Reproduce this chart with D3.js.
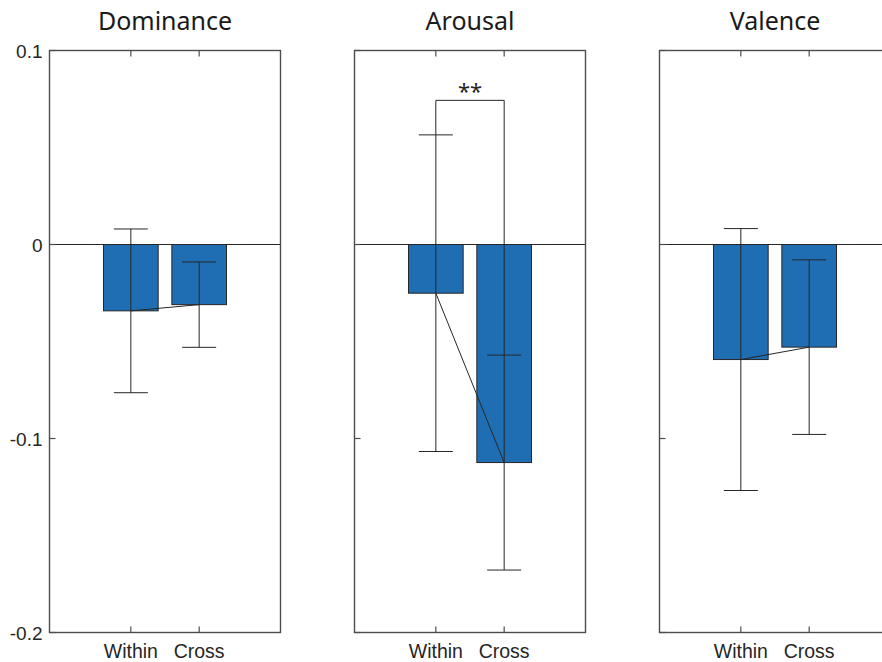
<!DOCTYPE html>
<html>
<head>
<meta charset="utf-8">
<script src="https://cdn.jsdelivr.net/npm/d3@7/dist/d3.min.js"></script>
<style>
  html, body { margin: 0; padding: 0; background: #fff; }
  svg { display: block; }
</style>
</head>
<body>
<svg id="chart" width="882" height="662"></svg>
<script>
// Panel titles and group labels
const panels = ["Dominance", "Arousal", "Valence"];
const groups = ["Within", "Cross"];

// Mean value per panel, [Within, Cross]
const means = [
  [-0.0342, -0.0310],
  [-0.0251, -0.1124],
  [-0.0593, -0.0529]
];
// Half-width of the error bar per panel, [Within, Cross]
const errors = [
  [0.0422, 0.0220],
  [0.0816, 0.0554],
  [0.0675, 0.0450]
];

// y axis ticks
const yTicks = [0.1, 0, -0.1, -0.2];
const yTickLabels = ["0.1", "0", "-0.1", "-0.2"];

// Significance bracket (panel index, bracket height, label)
const sigPanel = 1;
const sigLevel = 0.0743;
const sigLabel = "**";

const svg = d3.select("#chart");

const panelLeft = [49.5, 354.5, 659.5];
const panelWidth = 231;
const plotTop = 50.5, plotBottom = 632.5;

const barColor = "#1f6eb4";
const axisColor = "#4d4d4d";
const inkColor = "#262626";
const tickFont = "'Liberation Sans', Arial, sans-serif";

const y = d3.scaleLinear().domain([-0.2, 0.1]).range([plotBottom, plotTop]);

panels.forEach((name, p) => {
  const x = d3.scaleLinear().domain([-0.19, 3.19]).range([panelLeft[p], panelLeft[p] + panelWidth]);
  const g = svg.append("g");
  const bw = x(0.8) - x(0);
  const xs = [1, 2];

  // bars
  g.selectAll("rect.bar").data(means[p]).enter().append("rect")
    .attr("x", (d, i) => x(xs[i]) - bw / 2)
    .attr("y", d => Math.min(y(0), y(d)))
    .attr("width", bw)
    .attr("height", d => Math.abs(y(d) - y(0)))
    .attr("fill", barColor)
    .attr("stroke", inkColor)
    .attr("stroke-width", 1);

  // zero line across the panel
  g.append("line")
    .attr("x1", x.range()[0]).attr("x2", x.range()[1])
    .attr("y1", y(0)).attr("y2", y(0))
    .attr("stroke", inkColor).attr("stroke-width", 1);

  // line joining the two means
  g.append("line")
    .attr("x1", x(1)).attr("y1", y(means[p][0]))
    .attr("x2", x(2)).attr("y2", y(means[p][1]))
    .attr("stroke", inkColor).attr("stroke-width", 1);

  // error bars
  const capHalf = 17;
  means[p].forEach((m, i) => {
    const cx = x(xs[i]);
    const e = errors[p][i];
    g.append("line")
      .attr("x1", cx).attr("x2", cx)
      .attr("y1", y(m + e)).attr("y2", y(m - e))
      .attr("stroke", inkColor).attr("stroke-width", 1);
    [m + e, m - e].forEach(v => {
      g.append("line")
        .attr("x1", cx - capHalf).attr("x2", cx + capHalf)
        .attr("y1", y(v)).attr("y2", y(v))
        .attr("stroke", inkColor).attr("stroke-width", 1);
    });
  });

  // significance bracket
  if (p === sigPanel) {
    const leftTop = means[p][0] + errors[p][0];
    const rightTop = means[p][1] + errors[p][1];
    g.append("path")
      .attr("d", d3.line()([
        [x(1), y(leftTop)], [x(1), y(sigLevel)],
        [x(2), y(sigLevel)], [x(2), y(rightTop)]
      ]))
      .attr("fill", "none")
      .attr("stroke", inkColor).attr("stroke-width", 1);
    g.append("text")
      .attr("x", (x(1) + x(2)) / 2)
      .attr("y", y(sigLevel) - 1)
      .attr("text-anchor", "middle")
      .attr("font-family", "'Noto Sans', 'Open Sans', sans-serif")
      .attr("font-size", 22)
      .attr("fill", inkColor)
      .text(sigLabel);
  }

  // box
  g.append("rect")
    .attr("x", x.range()[0]).attr("y", plotTop)
    .attr("width", panelWidth).attr("height", plotBottom - plotTop)
    .attr("fill", "none")
    .attr("stroke", axisColor).attr("stroke-width", 1.4);

  // x ticks on bottom and top edges
  const tickLen = 6;
  xs.forEach((v, i) => {
    g.append("line")
      .attr("x1", x(v)).attr("x2", x(v))
      .attr("y1", plotBottom).attr("y2", plotBottom - tickLen)
      .attr("stroke", axisColor).attr("stroke-width", 1.2);
    g.append("line")
      .attr("x1", x(v)).attr("x2", x(v))
      .attr("y1", plotTop).attr("y2", plotTop + tickLen)
      .attr("stroke", axisColor).attr("stroke-width", 1.2);
    g.append("text")
      .attr("x", x(v))
      .attr("y", 658)
      .attr("text-anchor", "middle")
      .attr("font-family", tickFont)
      .attr("font-size", 19.5)
      .attr("fill", inkColor)
      .text(groups[i]);
  });

  // y ticks on the left edge
  yTicks.forEach((v, i) => {
    g.append("line")
      .attr("x1", x.range()[0]).attr("x2", x.range()[0] + tickLen)
      .attr("y1", y(v)).attr("y2", y(v))
      .attr("stroke", axisColor).attr("stroke-width", 1.2);
    if (p === 0) {
      g.append("text")
        .attr("x", x.range()[0] - 7)
        .attr("y", y(v) + 7)
        .attr("text-anchor", "end")
        .attr("font-family", tickFont)
        .attr("font-size", 19)
        .attr("fill", inkColor)
        .text(yTickLabels[i]);
    }
  });

  // title
  g.append("text")
    .attr("x", x.range()[0] + panelWidth / 2)
    .attr("y", 30)
    .attr("text-anchor", "middle")
    .attr("font-family", "'Noto Sans', 'Open Sans', sans-serif")
    .attr("font-size", 25)
    .attr("fill", "#1a1a1a")
    .text(name);
});
</script>
</body>
</html>
